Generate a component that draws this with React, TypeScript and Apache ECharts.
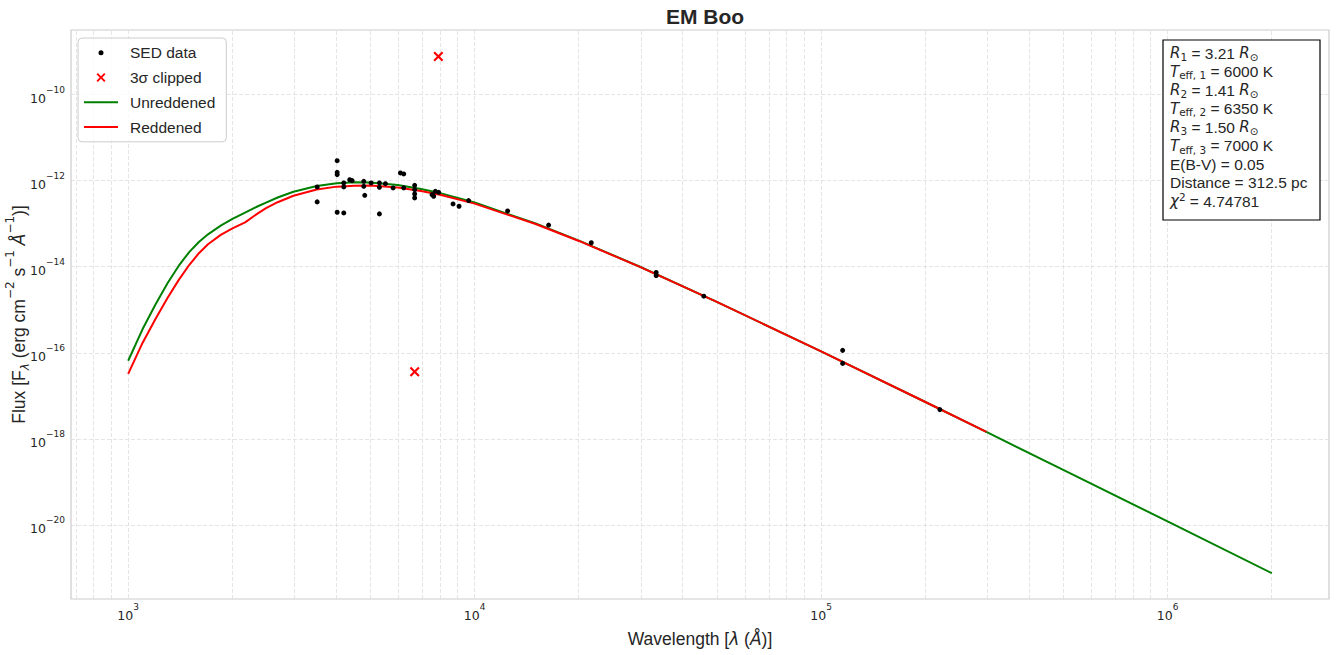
import { useEffect, useRef } from 'react';
import * as echarts from 'echarts';

// ---------- data ----------
// Model SED (Angstrom, erg cm^-2 s^-1 A^-1)
const unreddenedWave = [1000, 1100, 1200, 1300, 1400, 1500, 1600, 1700, 1850, 2000, 2175, 2350, 2500, 2700, 3000, 3500, 4000, 4500, 5000, 6000, 7000, 8000, 10000, 15000, 20000, 30000, 50000, 100000, 200000, 300000, 500000, 1000000, 2000000];
const unreddenedFlux = [6.55e-17, 3.51e-16, 1.343e-15, 4.19e-15, 1.058e-14, 2.183e-14, 3.75e-14, 5.66e-14, 9.02e-14, 1.288e-13, 1.816e-13, 2.47e-13, 3.10e-13, 4.06e-13, 5.53e-13, 7.54e-13, 8.73e-13, 9.16e-13, 9.03e-13, 7.89e-13, 6.42e-13, 5.07e-13, 3.10e-13, 1.01e-13, 4.05e-14, 1.0e-14, 1.53e-15, 1.08e-16, 7.19e-18, 1.45e-18, 1.91e-19, 1.21e-20, 7.59e-22];

const reddenedWave = [1000, 1100, 1200, 1300, 1400, 1500, 1600, 1700, 1850, 2000, 2175, 2350, 2500, 2700, 3000, 3500, 4000, 4500, 5000, 6000, 7000, 8000, 10000, 15000, 20000, 30000, 50000, 100000, 200000, 300000];
const reddenedFlux = [3.24e-17, 1.694e-16, 6.18e-16, 1.897e-15, 4.95e-15, 1.094e-14, 2.06e-14, 3.33e-14, 5.50e-14, 7.76e-14, 1.069e-13, 1.671e-13, 2.30e-13, 3.155e-13, 4.446e-13, 6.20e-13, 7.26e-13, 7.62e-13, 7.69e-13, 6.93e-13, 5.77e-13, 4.66e-13, 2.92e-13, 9.82e-14, 3.97e-14, 9.91e-15, 1.53e-15, 1.08e-16, 7.19e-18, 1.45e-18];

// Photometry
const sedWave = [3512, 3512, 4011, 4011, 4011, 4011, 4191, 4191, 4191, 4360, 4430, 4786, 4786, 4818, 5026, 5311, 5311, 5311, 5527, 5817, 6107, 6243, 6243, 6714, 6714, 6714, 6714, 7537, 7617, 7703, 7874, 8664, 9016, 9610, 12450, 16350, 21710, 33420, 33420, 45860, 115400, 115400, 220200];
const sedFlux = [7.14e-13, 3.21e-13, 2.91e-12, 1.56e-12, 1.38e-12, 1.84e-13, 8.85e-13, 7.14e-13, 1.78e-13, 1.05e-12, 1.0e-12, 9.64e-13, 7.38e-13, 4.56e-13, 8.85e-13, 8.85e-13, 7.0e-13, 1.69e-13, 8.51e-13, 6.78e-13, 1.51e-12, 1.43e-12, 6.8e-13, 7.78e-13, 6.18e-13, 4.91e-13, 3.97e-13, 4.73e-13, 4.33e-13, 5.65e-13, 5.36e-13, 2.88e-13, 2.54e-13, 3.44e-13, 1.98e-13, 9.29e-14, 3.61e-14, 7.33e-15, 6.25e-15, 2.07e-15, 1.14e-16, 5.68e-17, 4.79e-18];

const clippedWave = [7858, 6714];
const clippedFlux = [7.66e-10, 3.64e-17];

// Minor grid wavelengths (log axis minor ticks)
const minorGridWave = [700, 800, 900, 2000, 3000, 4000, 5000, 6000, 7000, 8000, 9000, 20000, 30000, 40000, 50000, 60000, 70000, 80000, 90000, 200000, 300000, 400000, 500000, 600000, 700000, 800000, 900000, 2000000];

const boxLines = [
  '{i|R}{sub|1}{b| = 3.21 }{i|R}{sub|⊙}',
  '{i|T}{sub|eff, 1}{b| = 6000 K}',
  '{i|R}{sub|2}{b| = 1.41 }{i|R}{sub|⊙}',
  '{i|T}{sub|eff, 2}{b| = 6350 K}',
  '{i|R}{sub|3}{b| = 1.50 }{i|R}{sub|⊙}',
  '{i|T}{sub|eff, 3}{b| = 7000 K}',
  '{b|E(B-V) = 0.05}',
  '{b|Distance = 312.5 pc}',
  '{i|χ}{sup|2}{b| = 4.74781}',
];

const TXT = '#262626';
const GRID = '#dedede';
const SANS = '"Liberation Sans", Arial, sans-serif';
const MATH = '"DejaVu Sans", sans-serif';

const toXY = (w: number[], f: number[]) => w.map((x, i) => [Math.log10(x), Math.log10(f[i])]);

const X_PATH = 'path://M0,1.5 L1.5,0 L5,3.5 L8.5,0 L10,1.5 L6.5,5 L10,8.5 L8.5,10 L5,6.5 L1.5,10 L0,8.5 L3.5,5 Z';
const LEG_X = 'path://M0,0 M34,14 M12.5,3.85 L13.85,2.5 L17,5.65 L20.15,2.5 L21.5,3.85 L18.35,7 L21.5,10.15 L20.15,11.5 L17,8.35 L13.85,11.5 L12.5,10.15 L15.65,7 Z';
const LEG_DOT = 'path://M0,0 M34,14 M14.5,7 A2.5,2.5 0 1,0 19.5,7 A2.5,2.5 0 1,0 14.5,7 Z';
const LEG_LINE = 'path://M0,0 M34,14 M0,6 L34,6 L34,8 L0,8 Z';

const powLabel = (v: number) => {
  const r = Math.round(v);
  if (Math.abs(v - r) > 1e-6) return '';
  const e = r < 0 ? '\u2212' + -r : String(r);
  return `{b|10}{s|${e}}`;
};

const tickRich = {
  b: { fontFamily: MATH, fontSize: 12.5, height: 13, lineHeight: 20, color: TXT, verticalAlign: 'bottom', padding: [7, 0, 0, 0] },
  s: { fontFamily: MATH, fontSize: 9, height: 10, lineHeight: 10, color: TXT, verticalAlign: 'top' },
};

export default function App() {
  const ref = useRef<HTMLDivElement>(null);
  useEffect(() => {
    if (!ref.current) return;
    const chart = echarts.init(ref.current, undefined, { renderer: 'svg' });
    const option: any = {
      animation: false,
      backgroundColor: '#ffffff',
      title: {
        text: 'EM Boo',
        left: 700,
        textAlign: 'center',
        top: 1,
        textStyle: { fontFamily: SANS, fontSize: 21, fontWeight: 'bold', color: TXT },
      },
      grid: {
        left: 71, right: 7, top: 30, bottom: 56,
        containLabel: false,
        outerBoundsMode: 'none',
        show: true, borderColor: '#cccccc', borderWidth: 1.2, backgroundColor: 'transparent',
      },
      legend: {
        orient: 'vertical',
        left: 78, top: 38,
        itemWidth: 34, itemHeight: 14, itemGap: 8.8,
        padding: [6.7, 11, 6.7, 6],
        backgroundColor: 'rgba(255,255,255,0.8)',
        borderColor: '#cccccc', borderWidth: 1, borderRadius: 4,
        textStyle: { fontFamily: SANS, fontSize: 15.5, color: TXT, padding: [0, 0, 0, 7] },
        data: [
          { name: 'SED data', icon: LEG_DOT },
          { name: '3σ clipped', icon: LEG_X },
          { name: 'Unreddened', icon: LEG_LINE },
          { name: 'Reddened', icon: LEG_LINE },
        ],
      },
      xAxis: {
        type: 'value',
        min: 2.835, max: 6.466,
        splitNumber: 5,
        axisLine: { show: false },
        axisTick: { show: false },
        axisLabel: { formatter: powLabel, rich: tickRich, margin: 3, showMinLabel: false, showMaxLabel: false },
        splitLine: { show: true, showMinLine: false, showMaxLine: false, lineStyle: { color: GRID, type: [4, 2], width: 0.8 } },
        name: '{n|Wavelength [}{i|λ}{n| (}{i|Å}{n|)]}',
        nameLocation: 'middle',
        nameGap: 31,
        nameMoveOverlap: false,
        nameTextStyle: {
          rich: {
            n: { fontFamily: SANS, fontSize: 17.5, color: TXT },
            i: { fontFamily: MATH, fontStyle: 'italic', fontSize: 17, color: TXT },
          },
        },
      },
      yAxis: {
        type: 'value',
        min: -21.72, max: -8.5,
        splitNumber: 6,
        axisLine: { show: false },
        axisTick: { show: false },
        axisLabel: { formatter: powLabel, rich: tickRich, margin: 6, showMinLabel: false, showMaxLabel: false },
        splitLine: { show: true, showMinLine: false, showMaxLine: false, lineStyle: { color: GRID, type: [4, 2], width: 0.8 } },
        name: '{n|Flux [F}{sub|λ}{n| (erg cm}{sup|\u22122}{n| s}{sup|\u22121}{n| }{i|Å}{sup|\u22121}{n|)]}',
        nameLocation: 'middle',
        nameGap: 40,
        nameRotate: 90,
        nameMoveOverlap: false,
        nameTextStyle: {
          rich: {
            n: { fontFamily: SANS, fontSize: 17.5, height: 18, lineHeight: 28, color: TXT, verticalAlign: 'bottom', padding: [7, 0, 3, 0] },
            i: { fontFamily: MATH, fontStyle: 'italic', fontSize: 17, height: 18, lineHeight: 28, color: TXT, verticalAlign: 'bottom', padding: [7, 0, 3, 0] },
            sup: { fontFamily: MATH, fontSize: 12, height: 12, lineHeight: 12, color: TXT, verticalAlign: 'top', padding: [1, 0, 0, 0] },
            sub: { fontFamily: MATH, fontStyle: 'italic', fontSize: 12, height: 12, lineHeight: 12, color: TXT, verticalAlign: 'bottom' },
          },
        },
      },
      series: [
        {
          name: 'minorGrid',
          type: 'line',
          data: [],
          z: 0,
          silent: true,
          markLine: {
            silent: true,
            z: 0,
            symbol: 'none',
            label: { show: false },
            lineStyle: { color: GRID, type: [4, 2], width: 0.8 },
            data: minorGridWave.map((w) => ({ xAxis: Math.log10(w) })),
          },
        },
        {
          name: 'Unreddened',
          type: 'line',
          data: toXY(unreddenedWave, unreddenedFlux),
          symbol: 'none',
          smooth: false,
          lineStyle: { color: '#008000', width: 2, join: 'round' },
          itemStyle: { color: '#008000' },
          z: 2,
        },
        {
          name: 'Reddened',
          type: 'line',
          data: toXY(reddenedWave, reddenedFlux),
          symbol: 'none',
          smooth: false,
          lineStyle: { color: '#ff0000', width: 2, join: 'round' },
          itemStyle: { color: '#ff0000' },
          z: 3,
        },
        {
          name: 'SED data',
          type: 'scatter',
          data: toXY(sedWave, sedFlux),
          symbol: 'circle',
          symbolSize: 5,
          itemStyle: { color: '#000000', opacity: 1 },
          z: 4,
        },
        {
          name: '3σ clipped',
          type: 'scatter',
          data: toXY(clippedWave, clippedFlux),
          symbol: X_PATH,
          symbolSize: 10,
          itemStyle: { color: '#ff0000', opacity: 1 },
          z: 5,
        },
      ],
      graphic: [
        {
          type: 'rect',
          z: 100,
          shape: { x: 1163, y: 40, width: 157, height: 180 },
          style: { fill: '#ffffff', stroke: '#000000', lineWidth: 1.2 },
        },
        {
          type: 'text',
          z: 101,
          x: 1170,
          y: 43.5,
          style: {
            text: boxLines.join('\n'),
            fill: TXT,
            font: `15px ${SANS}`,
            rich: {
              b: { fontFamily: SANS, fontSize: 15.5, height: 15, lineHeight: 18.55, fill: TXT, verticalAlign: 'bottom', padding: [2, 0, 1.55, 0] },
              i: { fontFamily: MATH, fontStyle: 'italic', fontSize: 15, height: 15, lineHeight: 18.55, fill: TXT, verticalAlign: 'bottom', padding: [2, 0, 1.55, 0] },
              sub: { fontFamily: MATH, fontSize: 10.5, height: 10.5, lineHeight: 10.5, fill: TXT, verticalAlign: 'bottom' },
              sup: { fontFamily: MATH, fontSize: 10.5, height: 10.5, lineHeight: 10.5, fill: TXT, verticalAlign: 'top' },
            },
          },
        },
      ],
    };
    chart.setOption(option);
    return () => chart.dispose();
  }, []);
  return <div ref={ref} style={{ position: 'absolute', left: 0, top: 0, width: 1336, height: 655 }} />;
}
